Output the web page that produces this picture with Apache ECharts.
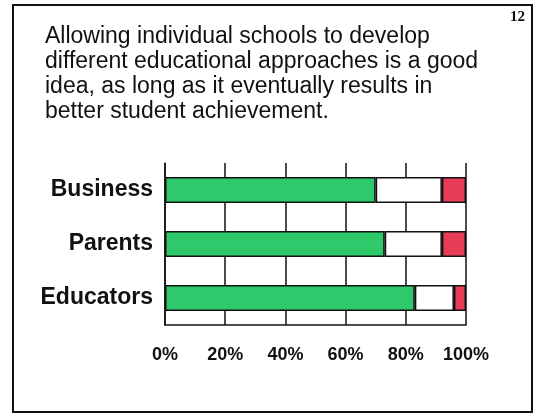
<!DOCTYPE html>
<html>
<head>
<meta charset="utf-8">
<script src="https://cdn.jsdelivr.net/npm/echarts@6/dist/echarts.min.js"></script>
<style>
  html, body { margin: 0; padding: 0; background: #ffffff; }
  #chart { width: 535px; height: 414px; }
</style>
</head>
<body>
<div id="chart"></div>
<script>
// Survey responses by group (percent of respondents)
const groups = ['Business', 'Parents', 'Educators'];
const agree = [70, 73, 83];
const neutral = [22, 19, 13];
const disagree = [8, 8, 4];
const tickValues = [0, 20, 40, 60, 80, 100];

const headline = [
  'Allowing individual schools to develop',
  'different educational approaches is a good',
  'idea, as long as it eventually results in',
  'better student achievement.'
];
const pageNumber = '12';

const chart = echarts.init(document.getElementById('chart'), null, { renderer: 'canvas' });

const barStyle = (color) => ({
  color: color,
  borderColor: '#111111',
  borderWidth: 1.5
});

chart.setOption({
  backgroundColor: '#ffffff',
  animation: false,
  title: {
    text: headline.join('\n'),
    left: 40,
    top: 19,
    textStyle: {
      fontFamily: 'Liberation Sans, Arial, sans-serif',
      fontSize: 23,
      fontWeight: 'normal',
      color: '#111111',
      lineHeight: 25
    }
  },
  graphic: [
    {
      type: 'rect',
      shape: { x: 13, y: 5, width: 519, height: 407 },
      style: { fill: 'none', stroke: '#111111', lineWidth: 2 },
      silent: true
    },
    {
      type: 'text',
      left: 510,
      top: 10,
      style: {
        text: pageNumber,
        font: 'bold 15px "Liberation Serif", "Times New Roman", serif',
        fill: '#111111'
      }
    }
  ],
  grid: { left: 165, right: 69, top: 163, bottom: 89 },
  xAxis: {
    type: 'value',
    min: 0,
    max: 100,
    interval: 20,
    axisLine: { show: true, lineStyle: { color: '#111111', width: 1.5 } },
    axisTick: { show: false },
    splitLine: { show: true, lineStyle: { color: '#111111', width: 1.5 } },
    axisLabel: {
      formatter: (v) => tickValues.includes(v) ? v + '%' : '',
      margin: 21,
      fontFamily: 'Liberation Sans, Arial, sans-serif',
      fontWeight: 'bold',
      fontSize: 18,
      color: '#111111'
    }
  },
  yAxis: {
    type: 'category',
    data: groups,
    inverse: true,
    axisLine: { show: true, lineStyle: { color: '#111111', width: 1.5 } },
    axisTick: { show: false },
    splitLine: { show: false },
    axisLabel: {
      margin: 12,
      padding: [5, 0, 0, 0],
      fontFamily: 'Liberation Sans, Arial, sans-serif',
      fontWeight: 'bold',
      fontSize: 23,
      color: '#111111'
    }
  },
  series: [
    {
      name: 'Agree', type: 'bar', stack: 'total', barWidth: 26,
      data: agree, itemStyle: barStyle('#2fc86b')
    },
    {
      name: 'Neutral', type: 'bar', stack: 'total', barWidth: 26,
      data: neutral, itemStyle: barStyle('#ffffff')
    },
    {
      name: 'Disagree', type: 'bar', stack: 'total', barWidth: 26,
      data: disagree, itemStyle: barStyle('#e63c55')
    }
  ]
});
</script>
</body>
</html>
